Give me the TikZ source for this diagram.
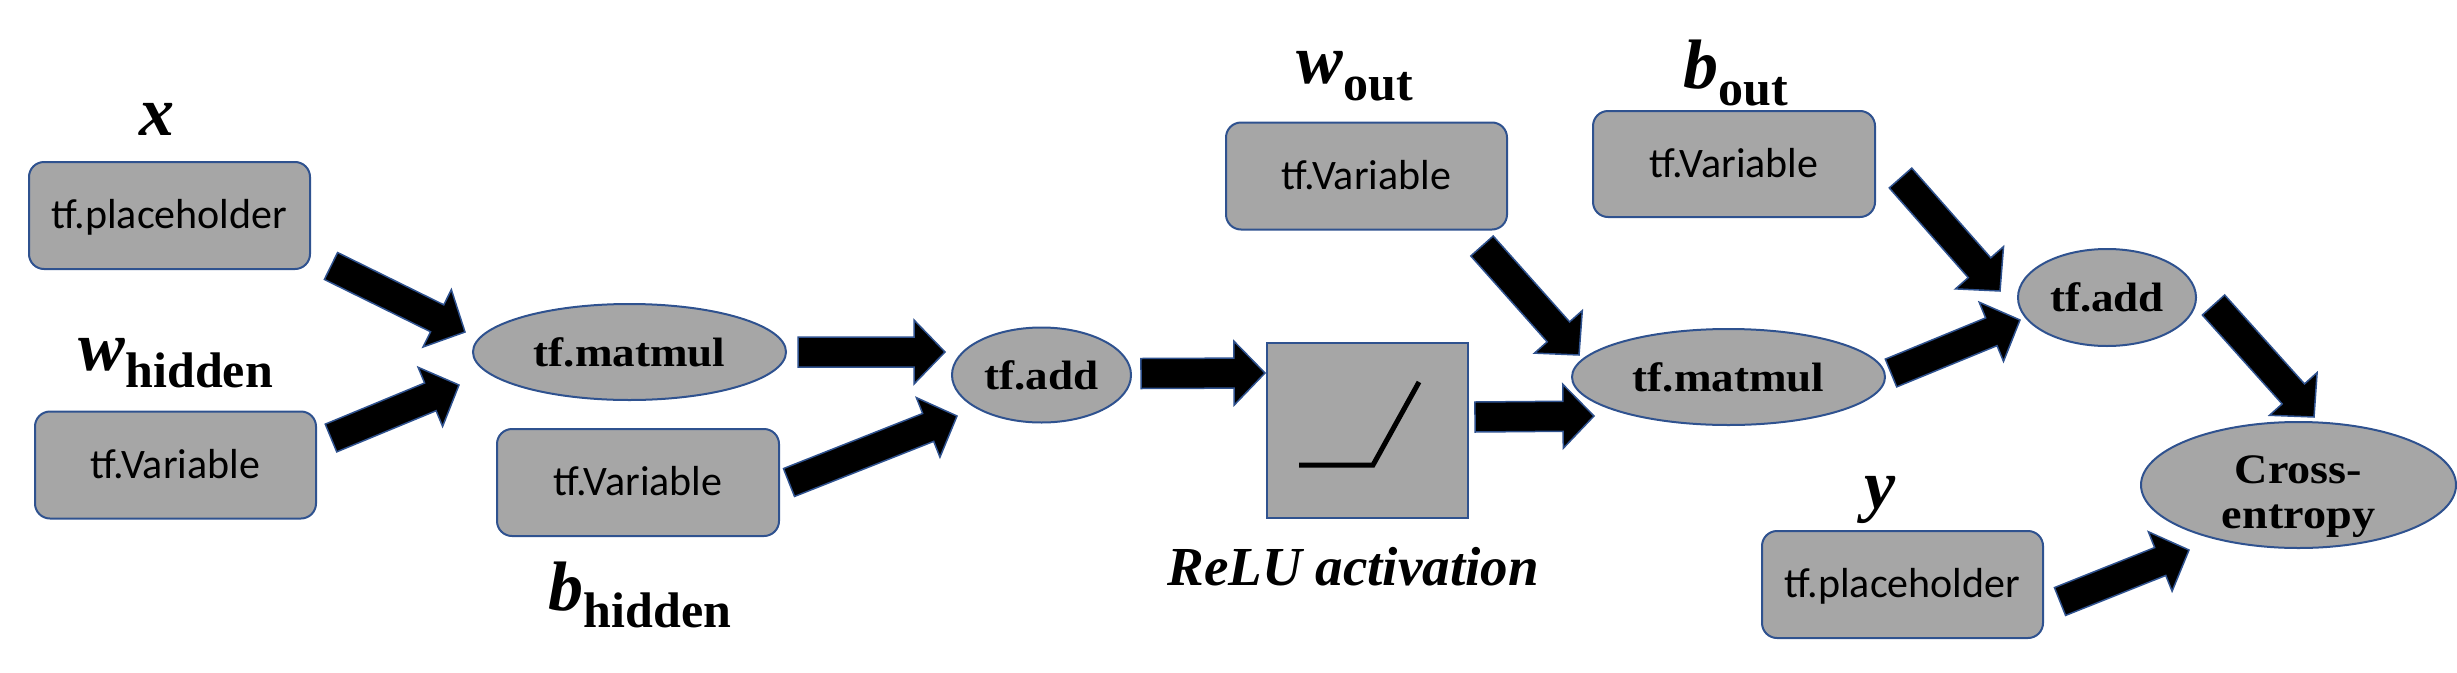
\documentclass[tikz,border=0pt]{standalone}
\usepackage{fontspec}
\newfontfamily\calfont{Carlito}
\newfontfamily\serfont{Liberation Serif}
\newfontfamily\opfont{Liberation Serif}[FakeStretch=1.1]
\usetikzlibrary{calc,shapes.geometric}
\definecolor{boxfill}{HTML}{A6A6A6}
\definecolor{boxline}{HTML}{2F528F}
\newcommand{\blockarr}[2]{%
  \coordinate (bab) at ($(#2)!31pt!(#1)$);
  \filldraw[blockarrow] ($(#1)!15pt!90:(#2)$) -- ($(bab)!15pt!90:(#2)$) -- ($(bab)!32pt!90:(#2)$) -- (#2)
    -- ($(bab)!32pt!-90:(#2)$) -- ($(bab)!15pt!-90:(#2)$) -- ($(#1)!15pt!-90:(#2)$) -- cycle;}
\newcommand{\subl}[1]{\raisebox{-17pt}{\upshape\fontsize{50}{50}\selectfont #1}}
\tikzset{
  tfbox/.style={draw=boxline, fill=boxfill, line width=2pt, rounded corners=15pt,
    minimum width=281pt, minimum height=107pt, inner sep=0pt,
    font=\calfont\fontsize{42}{50}\selectfont, text height=28pt, text depth=2pt},
  tfop/.style={draw=boxline, fill=boxfill, line width=2pt, ellipse, inner sep=0pt,
    font=\opfont\bfseries\fontsize{41}{47}\selectfont},
  relubox/.style={draw=boxline, fill=boxfill, line width=2pt, minimum width=201pt,
    minimum height=175pt, inner sep=0pt},
  relulin/.style={line width=5pt, black},
  blockarrow/.style={fill=black, draw=boxline, line width=1.5pt, line join=miter},
  varlbl/.style={inner sep=0pt, anchor=base, font=\serfont\bfseries\itshape\fontsize{70}{70}\selectfont},
  actlbl/.style={inner sep=0pt, anchor=base, font=\serfont\bfseries\itshape\fontsize{55}{60}\selectfont},
}
\begin{document}
\begin{tikzpicture}[x=1pt, y=-1pt]
\useasboundingbox (0,0) rectangle (2457,672);
% nodes
\node[tfbox] (xph) at (169.5,215.5) {tf.placeholder};
\node[tfbox] (wh) at (175.5,465) {tf.Variable};
\node[tfop, minimum width=313pt, minimum height=96pt] (m1) at (629.5,352) {tf.matmul};
\node[tfbox, minimum width=282pt] (bh) at (638,482.5) {tf.Variable};
\node[tfop, minimum width=179pt, minimum height=95pt] (add1) at (1041.5,375) {tf.add};
\node[relubox] (relu) at (1367.5,430.5) {};
\node[tfbox] (wout) at (1366.5,176) {tf.Variable};
\node[tfop, minimum width=313pt, minimum height=96pt] (m2) at (1728.5,377) {tf.matmul};
\node[tfbox, minimum width=282pt, minimum height=106pt] (bout) at (1734,164) {tf.Variable};
\node[tfop, minimum width=178pt, minimum height=97pt] (add2) at (2107,297.5) {tf.add};
\node[tfbox] (yph) at (1902.5,584.5) {tf.placeholder};
\node[tfop, minimum width=315pt, minimum height=126pt, text height=40pt, text depth=44pt,
  font=\opfont\bfseries\fontsize{42}{45}\selectfont] (ce) at (2298.5,485)
  {\begin{tabular}[t]{@{}c@{}}Cross-\\entropy\end{tabular}};
% relu glyph
\draw[relulin] ($(relu.center)+(-68.5,34.5)$) -- ++(74,0) -- ++(46,-83);
% labels
\node[varlbl] (lx) at (156.5,135) {x};
\node[varlbl] (lwh) at (176,370) {w\subl{hidden}};
\node[varlbl] (lbh) at (640,610) {b\subl{hidden}};
\node[varlbl] (lwo) at (1355,83) {w\subl{out}};
\node[varlbl] (lbo) at (1735.5,88) {b\subl{out}};
\node[varlbl] (ly) at (1880,508) {y};
\node[actlbl] (lrelu) at (1353,585) {ReLU activation};
% arrow end points
\coordinate (a1s) at ($(xph.south east)+(20,-4)$);
\coordinate (a1e) at ($(m1.west)+(-7,-20)$);
\coordinate (a2s) at ($(wh.east)+(14,-27)$);
\coordinate (a2e) at ($(m1.west)+(-13,33)$);
\coordinate (a3s) at ($(m1.east)+(11,0)$);
\coordinate (a3e) at ($(add1.west)+(-6,-23)$);
\coordinate (a4s) at ($(bh.east)+(9,0)$);
\coordinate (a4e) at ($(add1.west)+(6,41)$);
\coordinate (a5s) at ($(add1.east)+(9,-1.5)$);
\coordinate (a5e) at ($(relu.west)+(-1,-57.5)$);
\coordinate (a6s) at ($(relu.east)+(6,-13.5)$);
\coordinate (a6e) at ($(m2.west)+(23,39)$);
\coordinate (a7s) at ($(wout.south east)+(-26,15.5)$);
\coordinate (a7e) at ($(m2.west)+(8,-22)$);
\coordinate (a8s) at ($(bout.east)+(24.5,14)$);
\coordinate (a8e) at ($(add2.west)+(-17,-6.5)$);
\coordinate (a9s) at ($(m2.east)+(5,-4)$);
\coordinate (a9e) at ($(add2.west)+(3,22.5)$);
\coordinate (a10s) at ($(add2.east)+(16.5,7.5)$);
\coordinate (a10e) at ($(ce.north)+(15.5,-4)$);
\coordinate (a11s) at ($(yph.east)+(16,17)$);
\coordinate (a11e) at ($(ce.west)+(49,65)$);
% arrows
\blockarr{a1s}{a1e}
\blockarr{a2s}{a2e}
\blockarr{a3s}{a3e}
\blockarr{a4s}{a4e}
\blockarr{a5s}{a5e}
\blockarr{a6s}{a6e}
\blockarr{a7s}{a7e}
\blockarr{a8s}{a8e}
\blockarr{a9s}{a9e}
\blockarr{a10s}{a10e}
\blockarr{a11s}{a11e}
\end{tikzpicture}
\end{document}
